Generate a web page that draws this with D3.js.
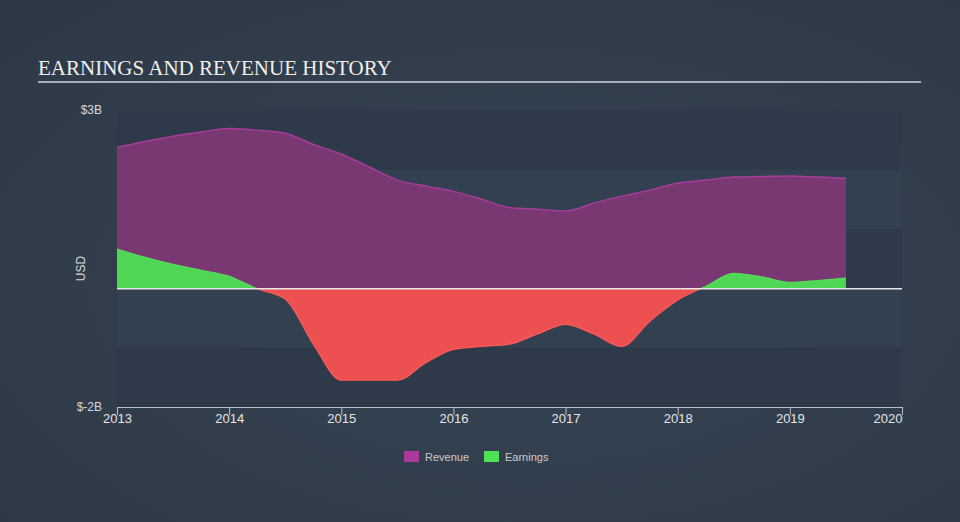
<!DOCTYPE html>
<html><head><meta charset="utf-8">
<script src="https://cdn.jsdelivr.net/npm/d3@7"></script>
<style>html,body{margin:0;padding:0;background:#333f4e;}svg{display:block;}</style>
</head><body>
<svg id="c" width="960" height="522"></svg>
<script>
const dates = [2013.0,2013.25,2013.5,2013.75,2014.0,2014.25,2014.5,2014.75,2015.0,2015.25,2015.5,2015.75,2016.0,2016.25,2016.5,2016.75,2017.0,2017.25,2017.5,2017.75,2018.0,2018.25,2018.5,2018.75,2019.0,2019.25,2019.5];
const revenue = [2.37,2.47,2.56,2.63,2.69,2.66,2.61,2.42,2.26,2.04,1.82,1.72,1.63,1.50,1.36,1.33,1.30,1.43,1.55,1.65,1.77,1.82,1.87,1.88,1.89,1.87,1.85];
const earnings = [0.66,0.52,0.40,0.30,0.20,-0.01,-0.18,-0.94,-1.55,-1.55,-1.55,-1.26,-1.03,-0.98,-0.94,-0.77,-0.61,-0.77,-0.98,-0.56,-0.20,0.03,0.25,0.19,0.10,0.13,0.17];
const yTicks = [3, -2];
const yTickLabels = ["$3B", "$-2B"];
const xTicks = [2013,2014,2015,2016,2017,2018,2019,2020];
const seriesNames = ["Revenue","Earnings"];

const svg = d3.select("#c");
const W = 960, H = 522;
const defs = svg.append("defs");
const g0 = defs.append("radialGradient").attr("id","bg").attr("cx","55%").attr("cy","55%").attr("r","75%");
g0.append("stop").attr("offset","0%").attr("stop-color","#364454");
g0.append("stop").attr("offset","100%").attr("stop-color","#2e3946");
svg.append("rect").attr("width",W).attr("height",H).attr("fill","url(#bg)");

const L = 117, R = 902, T = 110, B = 407;
const x = d3.scaleLinear().domain([2013,2020]).range([L,R]);
const y = d3.scaleLinear().domain([-2,3]).range([B,T]);

// bands
const bandVals = d3.range(-2,3,1);
bandVals.forEach((v,i)=>{
  svg.append("rect").attr("x",L).attr("width",R-L)
    .attr("y",y(v+1)).attr("height",y(v)-y(v+1))
    .attr("fill", (v===2||v===0||v===-2) ? "#2e3a49" : "#334050");
});

// title
svg.append("text").attr("x",38).attr("y",75).text("EARNINGS AND REVENUE HISTORY")
  .attr("font-family","'Liberation Serif','Times New Roman',serif").attr("font-size",21)
  .attr("fill","#f0f0f0");
svg.append("line").attr("x1",38).attr("x2",921).attr("y1",82).attr("y2",82)
  .attr("stroke","#a9adb3").attr("stroke-width",2);

const data = dates.map((d,i)=>({d, r: revenue[i], e: earnings[i]}));
const curve = d3.curveMonotoneX;

// revenue area
svg.append("path").datum(data)
  .attr("d", d3.area().curve(curve).x(p=>x(p.d)).y0(y(0)).y1(p=>y(p.r)))
  .attr("fill","#7a3873");
svg.append("path").datum(data)
  .attr("d", d3.line().curve(curve).x(p=>x(p.d)).y(p=>y(p.r)))
  .attr("fill","none").attr("stroke","#a43d9a").attr("stroke-width",1.5);

// earnings clip
defs.append("clipPath").attr("id","pos").append("rect").attr("x",0).attr("y",0).attr("width",W).attr("height",y(0));
defs.append("clipPath").attr("id","neg").append("rect").attr("x",0).attr("y",y(0)).attr("width",W).attr("height",H);
const eArea = d3.area().curve(curve).x(p=>x(p.d)).y0(y(0)).y1(p=>y(p.e));
const eLine = d3.line().curve(curve).x(p=>x(p.d)).y(p=>y(p.e));
svg.append("path").datum(data).attr("d",eArea).attr("fill","#50d655").attr("clip-path","url(#pos)");
svg.append("path").datum(data).attr("d",eArea).attr("fill","#ec5050").attr("clip-path","url(#neg)");
svg.append("path").datum(data).attr("d",eLine).attr("fill","none").attr("stroke","#ff5a5a").attr("stroke-width",1.2).attr("clip-path","url(#neg)");
svg.append("path").datum(data).attr("d",eLine).attr("fill","none").attr("stroke","#55dd5a").attr("stroke-width",1.2).attr("clip-path","url(#pos)");

// zero line
svg.append("line").attr("x1",L).attr("x2",R).attr("y1",y(0)+0.5).attr("y2",y(0)+0.5)
  .attr("stroke","#e6e6e6").attr("stroke-width",1.5);

// y labels
yTicks.forEach((v,i)=>{
  svg.append("text").attr("x",102).attr("y",y(v)+4).attr("text-anchor","end")
    .attr("font-family","'Liberation Sans',Arial,sans-serif").attr("font-size",12)
    .attr("fill","#d6d8db").text(yTickLabels[i]);
});
svg.append("text").attr("transform",`translate(85,${(T+B)/2+10}) rotate(-90)`)
  .attr("text-anchor","middle").attr("font-family","'Liberation Sans',Arial,sans-serif")
  .attr("font-size",12).attr("fill","#d6d8db").text("USD");

// x axis
const xa = svg.append("g").attr("transform",`translate(0,${B})`)
  .call(d3.axisBottom(x).tickValues(xTicks).tickFormat(d3.format("d")).tickSize(8).tickSizeOuter(0));
xa.select(".domain").attr("stroke","#b9bec6");
xa.selectAll(".tick line").attr("stroke","#b9bec6");
xa.selectAll(".tick text").attr("fill","#e4e6e8").attr("font-size",13)
  .attr("font-family","'Liberation Sans',Arial,sans-serif").attr("dy","0.4em").attr("y",11);
xa.selectAll(".tick text").filter(d=>d===2020).attr("text-anchor","end").attr("x",0);

// legend
const lg = [{n:seriesNames[0], c:"#a93a9a", x:404},{n:seriesNames[1], c:"#50e055", x:484}];
lg.forEach(l=>{
  svg.append("rect").attr("x",l.x).attr("y",451).attr("width",15).attr("height",11).attr("fill",l.c);
  svg.append("text").attr("x",l.x+21).attr("y",460.5).text(l.n)
    .attr("font-family","'Liberation Sans',Arial,sans-serif").attr("font-size",11).attr("fill","#c9ccd0");
});
</script>
</body></html>
